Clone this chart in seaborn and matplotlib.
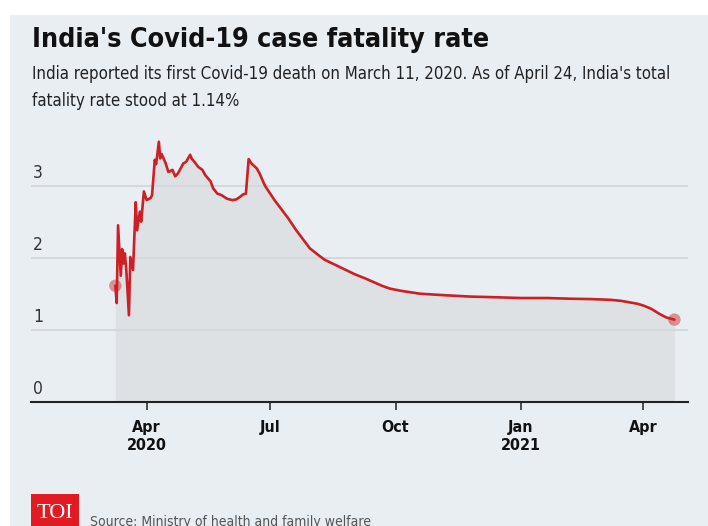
import matplotlib
matplotlib.use("Agg")
import matplotlib.pyplot as plt
from matplotlib.patches import Rectangle
import pandas as pd
import seaborn as sns

dates = [
    "2020-03-09", "2020-03-10", "2020-03-11", "2020-03-13", "2020-03-14", "2020-03-15",
    "2020-03-16", "2020-03-17", "2020-03-19", "2020-03-20", "2020-03-22", "2020-03-24",
    "2020-03-25", "2020-03-27", "2020-03-28", "2020-03-30", "2020-04-01", "2020-04-04",
    "2020-04-05", "2020-04-07", "2020-04-08", "2020-04-10", "2020-04-11", "2020-04-12",
    "2020-04-13", "2020-04-15", "2020-04-17", "2020-04-20", "2020-04-22", "2020-04-24",
    "2020-04-26", "2020-04-28", "2020-04-30", "2020-05-03", "2020-05-04", "2020-05-07",
    "2020-05-09", "2020-05-12", "2020-05-14", "2020-05-18", "2020-05-20", "2020-05-23",
    "2020-05-26", "2020-05-30", "2020-06-03", "2020-06-06", "2020-06-09", "2020-06-11",
    "2020-06-13", "2020-06-15", "2020-06-17", "2020-06-21", "2020-06-23", "2020-06-27",
    "2020-07-04", "2020-07-14", "2020-07-20", "2020-07-30", "2020-08-05", "2020-08-10",
    "2020-08-20", "2020-09-01", "2020-09-09", "2020-09-15", "2020-09-21", "2020-09-27",
    "2020-10-05", "2020-10-19", "2020-11-05", "2020-11-25", "2020-12-15", "2021-01-01",
    "2021-01-20", "2021-02-07", "2021-02-22", "2021-03-08", "2021-03-16", "2021-03-22",
    "2021-03-28", "2021-04-02", "2021-04-07", "2021-04-13", "2021-04-18", "2021-04-24",
]
cfr = [
    1.61, 1.37, 2.45, 1.75, 2.12, 1.92,
    2.06, 1.85, 1.20, 2.01, 1.83, 2.77,
    2.38, 2.64, 2.50, 2.92, 2.80, 2.83,
    2.87, 3.36, 3.30, 3.61, 3.38, 3.44,
    3.40, 3.31, 3.19, 3.22, 3.13, 3.17,
    3.24, 3.31, 3.33, 3.43, 3.38, 3.31,
    3.26, 3.22, 3.15, 3.06, 2.96, 2.89,
    2.87, 2.82, 2.80, 2.81, 2.85, 2.88,
    2.89, 3.37, 3.31, 3.24, 3.17, 3.00,
    2.80, 2.55, 2.38, 2.13, 2.04, 1.97,
    1.88, 1.77, 1.71, 1.66, 1.61, 1.57,
    1.54, 1.50, 1.48, 1.46, 1.45, 1.44,
    1.44, 1.43, 1.425, 1.415, 1.40, 1.38,
    1.36, 1.33, 1.29, 1.22, 1.17, 1.14,
]
tick_dates = ["2020-04-01", "2020-07-01", "2020-10-01", "2021-01-01", "2021-04-01"]
tick_labels = ["Apr\n2020", "Jul", "Oct", "Jan\n2021", "Apr"]
y_ticks = [0, 1, 2, 3]

df = pd.DataFrame({"date": pd.to_datetime(dates), "cfr": cfr})

sns.set_style("white")
plt.rcParams["font.family"] = ["Liberation Sans Narrow", "DejaVu Sans"]
plt.rcParams["font.stretch"] = "condensed"

bg = "#e9eef2"
red = "#cc1f26"

fig = plt.figure(figsize=(7.08, 5.26), dpi=100, facecolor="white")
fig.patches.append(Rectangle((10 / 708, 0), 698 / 708, 1 - 15 / 526,
                             transform=fig.transFigure, facecolor=bg,
                             edgecolor="none", zorder=-5))

ax = fig.add_axes([31 / 708, 1 - 401.7 / 526, 657 / 708, 288 / 526])
ax.patch.set_alpha(0)

ax.fill_between(df["date"], df["cfr"], 0, color="#dee1e4", lw=0, zorder=1)
for y in y_ticks[1:]:
    ax.axhline(y, color="#d3d6d9", lw=1.3, zorder=1.5)
sns.lineplot(data=df, x="date", y="cfr", ax=ax, color=red, lw=1.9, zorder=3)
ends = df.iloc[[0, -1]]
ax.scatter(ends["date"], ends["cfr"], s=80, color=red, alpha=0.45,
           edgecolor="none", zorder=4)

ax.set_xlim(pd.Timestamp("2020-01-07"), pd.Timestamp("2021-05-04"))
ax.set_ylim(0, 4)
ax.set_xticks(pd.to_datetime(tick_dates))
ax.set_xticklabels(tick_labels, fontsize=11.5, fontweight="bold",
                   color="#111111", linespacing=1.25)
ax.tick_params(axis="x", direction="out", length=5.5, width=1.1,
               color="#222222", pad=8, bottom=True)
ax.set_yticks([])
ax.set_xlabel("")
ax.set_ylabel("")
for s in ["top", "left", "right"]:
    ax.spines[s].set_visible(False)
ax.spines["bottom"].set_color("#222222")
ax.spines["bottom"].set_linewidth(1.5)

for y in y_ticks:
    ax.annotate(str(y), xy=(0.003, y), xycoords=("axes fraction", "data"),
                xytext=(0, 3), textcoords="offset points",
                ha="left", va="bottom", fontsize=12.5, color="#333333")

fig.text(32 / 708, 1 - 47 / 526, "India's Covid-19 case fatality rate",
         fontsize=19.3, fontweight="bold", color="#111111", ha="left", va="baseline")
fig.text(32 / 708, 1 - 79 / 526,
         "India reported its first Covid-19 death on March 11, 2020. As of April 24, India's total",
         fontsize=12.1, color="#222222", ha="left", va="baseline")
fig.text(32 / 708, 1 - 106 / 526, "fatality rate stood at 1.14%",
         fontsize=12.1, color="#222222", ha="left", va="baseline")

fig.patches.append(Rectangle((31 / 708, 0), 48 / 708, 32 / 526,
                             transform=fig.transFigure, facecolor="#e21b22",
                             edgecolor="none", zorder=1))
fig.text(55 / 708, 13 / 526, "TOI", family=["Liberation Serif", "DejaVu Serif"],
         fontstretch="normal", fontsize=16, color="white", ha="center", va="center")
fig.text(90 / 708, 0, "Source: Ministry of health and family welfare",
         fontsize=10, color="#555555", ha="left", va="baseline")

fig.savefig("out.png", dpi=100, facecolor="white")
